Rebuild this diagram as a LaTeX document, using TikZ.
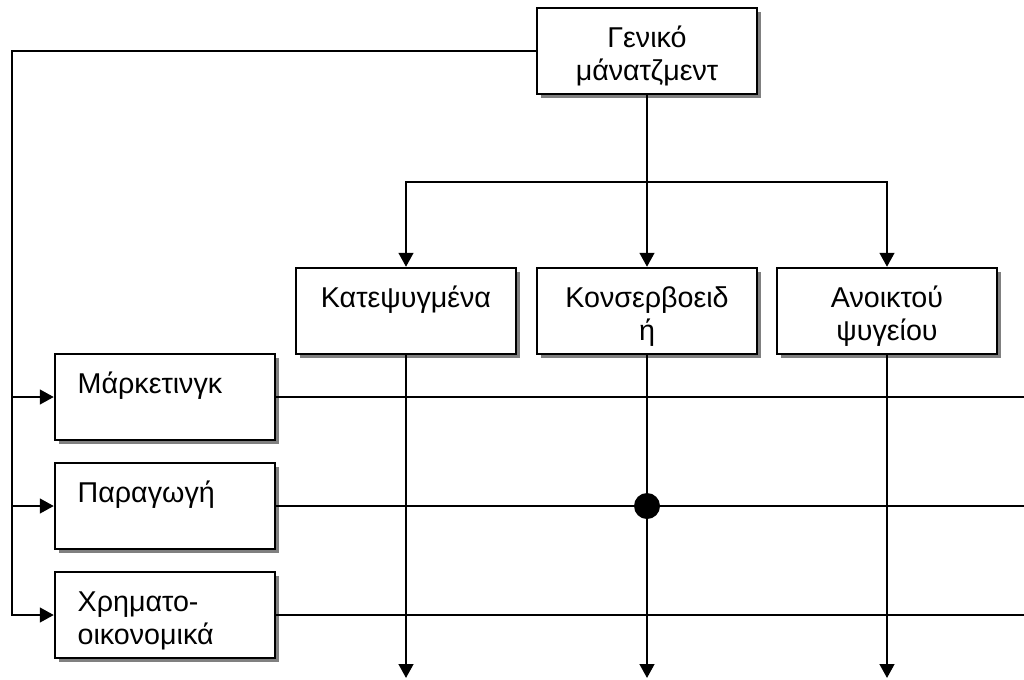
\documentclass[tikz,border=0pt]{standalone}
\usepackage{fontspec}
\setmainfont{Liberation Sans}
\usetikzlibrary{arrows.meta,shadows}

\newcommand{\ctxt}[1]{\parbox[c][64.5pt][t]{165pt}{\centering\rule{0pt}{29.5pt}#1}}
\newcommand{\ltxt}[1]{\parbox[c][64.5pt][t]{165pt}{\raggedright\leftskip=17pt\rule{0pt}{29.5pt}#1}}

\begin{document}
\begin{tikzpicture}[
			x=0.75pt, y=-0.75pt,
			line width=1.8pt,
			every node/.style={font=\fontsize{21.5}{25}\selectfont},
			blk/.style={draw, fill=white, inner sep=0pt,
				drop shadow={shadow xshift=3pt, shadow yshift=-3pt, fill=black!50, opacity=1}},
			arr/.style={-{Triangle[length=10.5pt,width=11pt]}}
			]

			\useasboundingbox (0,0) rectangle (1024,679);
			\clip (0,0) rectangle (1024,679);

			\node[blk] (gen) at (647,51) {\ctxt{Γενικό\\μάνατζμεντ}};

			\node[blk] (kat) at (406,311) {\ctxt{Κατεψυγμένα}};
			\node[blk] (kon) at (647,311) {\ctxt{Κονσερβοειδ\\ή}};
			\node[blk] (ano) at (887,311) {\ctxt{Ανοικτού\\ψυγείου}};

			\node[blk] (mkt) at (165,397) {\ltxt{Μάρκετινγκ}};
			\node[blk] (par) at (165,506) {\ltxt{Παραγωγή}};
			\node[blk] (xrh) at (165,615) {\ltxt{Χρηματο-\\οικονομικά}};

			\coordinate (lt) at (12,51);
			\coordinate (split) at (647,182);

			\draw[arr] (gen.west) -- (lt) |- (xrh.west);
			\draw[arr] (lt |- mkt.west) -- (mkt.west);
			\draw[arr] (lt |- par.west) -- (par.west);

			\draw[arr] (gen.south) -- (kon.north);
			\draw[arr] (split) -| (kat.north);
			\draw[arr] (split) -| (ano.north);

			\foreach \n in {kat,kon,ano}
				\draw[arr] (\n.south) -- (\n.south |- 0,678);
			\foreach \n in {mkt,par,xrh}
				\draw[arr] (\n.east) -- (\n.east -| 1038,0);

			\node[circle, fill, inner sep=0pt, minimum size=19.5pt] (dot) at (kon.south |- par.east) {};

\end{tikzpicture}
\end{document}
